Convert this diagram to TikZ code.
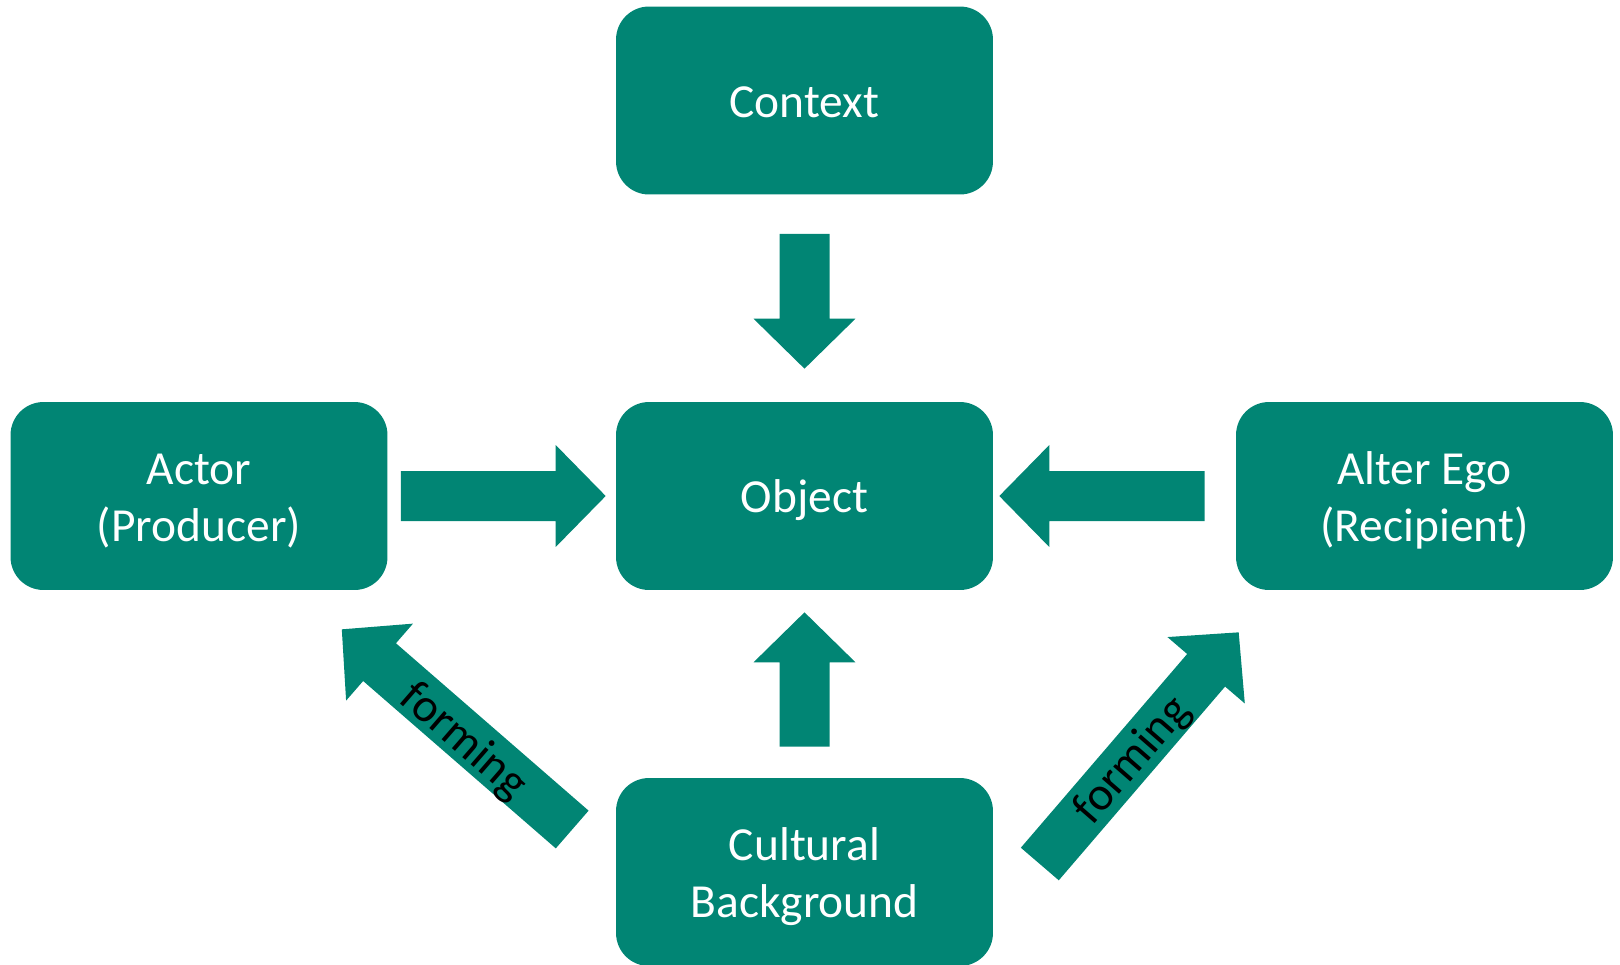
\documentclass[tikz,border=0pt]{standalone}
\usepackage{fontspec}
\setmainfont{Carlito}
\usetikzlibrary{calc}
\definecolor{tealbox}{RGB}{1,133,116}

\begin{document}
\begin{tikzpicture}[x=0.02cm, y=-0.02cm,
    box/.style={fill=tealbox, rounded corners=0.66cm, minimum width=7.54cm,
      minimum height=3.76cm, inner sep=0pt, align=center, text=white,
      font=\fontsize{27}{32.4}\selectfont},
    flow/.style={fill=tealbox},
    lbl/.style={font=\fontsize{27}{32.4}\selectfont, inner sep=0pt}]

    \useasboundingbox (0,0) rectangle (1620,964);

    % top and bottom struts, keep the text centred like the slide
    \def\lt{\rule{0pt}{26.3pt}}
    \def\lb{\rule[-7.3pt]{0pt}{7.3pt}}

    % -------------------------------------------------------
    % 1. Boxes
    % -------------------------------------------------------
    \node[box] (ctx)  at (804.5,100.5) {\lt Context\lb};
    \node[box] (obj)  at (804.5,496)   {\lt Object\lb};
    \node[box] (act)  at (199,496)     {\lt Actor\\(Producer)\lb};
    \node[box] (alt)  at (1424.5,496)  {\lt Alter Ego\\(Recipient)\lb};
    \node[box] (cult) at (804.5,872)   {\lt Cultural\\Background\lb};

    % -------------------------------------------------------
    % 2. Arrow ends
    % -------------------------------------------------------
    \coordinate (c1) at ($(ctx.south)+(0,39)$);
    \coordinate (c2) at ($(obj.north)+(0,-33)$);
    \coordinate (a1) at ($(act.east)+(13,0)$);
    \coordinate (a2) at ($(obj.west)+(-10,0)$);
    \coordinate (e1) at ($(alt.west)+(-31,0)$);
    \coordinate (e2) at ($(obj.east)+(6,0)$);
    \coordinate (b1) at ($(cult.north)+(0,-31)$);
    \coordinate (b2) at ($(obj.south)+(0,22)$);
    \coordinate (l1) at ($(cult.west)+(-43.5,-42.5)$);
    \coordinate (l2) at ($(act.south east)+(-46,39)$);
    \coordinate (r1) at ($(cult.east)+(46.5,-8)$);
    \coordinate (r2) at ($(alt.south west)+(3,42)$);

    % -------------------------------------------------------
    % 3. Block arrows
    % -------------------------------------------------------
    \def\sw{0.5cm}
    \def\hw{1.02cm}
    \def\hl{1cm}
    \foreach \src/\dst in {c1/c2, a1/a2, e1/e2, b1/b2, l1/l2, r1/r2} {
      \coordinate (h) at ($(\dst)!\hl!(\src)$);
      \fill[flow] ($(\src)!\sw!90:(\dst)$)
        -- ($(h)!\sw!-90:(\src)$) -- ($(h)!\hw!-90:(\src)$)
        -- (\dst)
        -- ($(h)!\hw!90:(\src)$) -- ($(h)!\sw!90:(\src)$)
        -- ($(\src)!\sw!-90:(\dst)$) -- cycle;
    }

    % "forming" labels
    \node[lbl, rotate=-41] (fl) at (463,742)  {forming};
    \node[lbl, rotate=49]  (fr) at (1133,761) {forming};
\end{tikzpicture}
\end{document}
